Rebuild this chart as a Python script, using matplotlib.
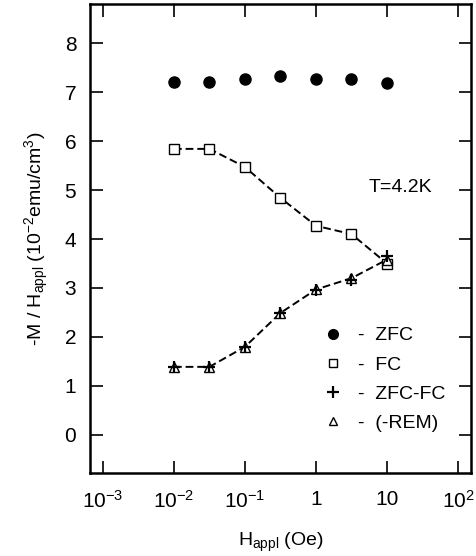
import numpy as np
import matplotlib
matplotlib.use("Agg")
import matplotlib.pyplot as plt
from matplotlib.lines import Line2D

plt.rcParams['font.family'] = ['Liberation Sans', 'DejaVu Sans']
plt.rcParams['mathtext.fontset'] = 'custom'
plt.rcParams['mathtext.rm'] = 'Liberation Sans'
plt.rcParams['mathtext.it'] = 'Liberation Sans'

# field values (Oe)
h_appl = [0.01, 0.0316, 0.1, 0.316, 1.0, 3.16, 10.0]

zfc = [7.20, 7.20, 7.27, 7.33, 7.27, 7.27, 7.18]
fc = [5.84, 5.84, 5.47, 4.84, 4.27, 4.10, 3.50]
zfc_fc = [1.38, 1.38, 1.80, 2.49, 2.96, 3.16, 3.65]
rem = [1.39, 1.39, 1.80, 2.49, 2.97, 3.20, 3.58]

xticks = [1e-3, 1e-2, 1e-1, 1, 10, 100]
xticklabels = ['$10^{-3}$', '$10^{-2}$', '$10^{-1}$', '1', '10', '$10^{2}$']
yticks = [0, 1, 2, 3, 4, 5, 6, 7, 8]

fig = plt.figure(figsize=(4.77, 5.56), dpi=100)
ax = fig.add_axes([0.189, 0.149, 0.798, 0.844])

dash = (0, (4, 2))
ax.plot(h_appl, zfc, 'o', color='black', ms=8, ls='none')
ax.plot(h_appl, fc, color='black', lw=1.4, ls=dash, marker='s', ms=7,
        mfc='white', mec='black', mew=1.0)
ax.plot(h_appl, rem, color='black', lw=1.4, ls=dash, marker='^', ms=7,
        mfc='white', mec='black', mew=1.0)
ax.plot(h_appl, zfc_fc, 'k+', ms=9, mew=1.6, ls='none')

ax.set_xscale('log')
ax.set_xlim(10**-3.18, 10**2.18)
ax.set_ylim(-0.78, 8.8)
ax.set_xticks(xticks)
ax.set_xticklabels(xticklabels)
ax.set_yticks(yticks)
ax.minorticks_off()
ax.tick_params(direction='in', length=9, width=1.2, top=True, right=True,
               labelsize=15)
ax.tick_params(axis='x', pad=12)
ax.tick_params(axis='y', pad=10)
for s in ax.spines.values():
    s.set_linewidth(1.8)

ax.set_ylabel('-M / H$_{\\rm appl}$ (10$^{-2}$emu/cm$^{3}$)', fontsize=14, labelpad=10)
ax.set_xlabel('H$_{\\rm appl}$ (Oe)', fontsize=14, labelpad=14)

ax.text(5.6, 5.05, 'T=4.2K', fontsize=14, va='center', ha='left')

handles = [
    Line2D([], [], ls='none', marker='o', color='black', ms=7),
    Line2D([], [], ls='none', marker='s', mfc='white', mec='black', ms=6),
    Line2D([], [], ls='none', marker='+', color='black', ms=9, mew=1.6),
    Line2D([], [], ls='none', marker='^', mfc='white', mec='black', ms=6),
]
labels = ['-  ZFC', '-  FC', '-  ZFC-FC', '-  (-REM)']
ax.legend(handles, labels, loc='lower right', bbox_to_anchor=(0.98, 0.05),
          frameon=False, fontsize=14, handlelength=1.0, handletextpad=0.8,
          labelspacing=0.6)

fig.savefig('out.png', dpi=100)
